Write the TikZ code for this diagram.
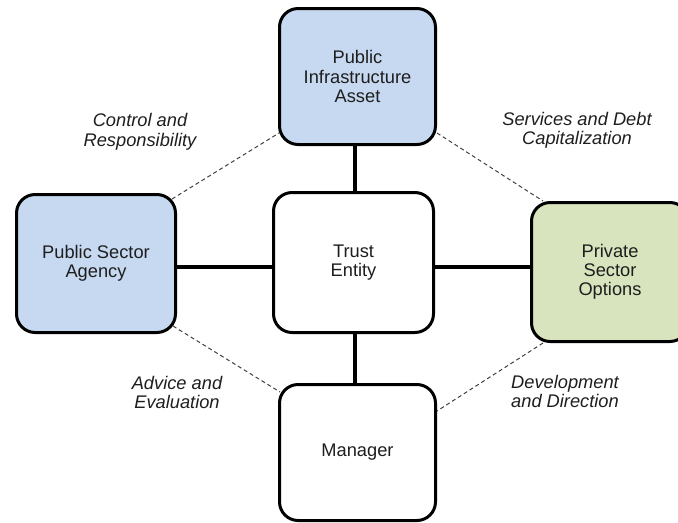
\documentclass[tikz,border=0pt]{standalone}
\usepackage{fontspec}
\setmainfont{Liberation Sans}
\usetikzlibrary{calc}
\definecolor{boxblue}{HTML}{C6D9F1}
\definecolor{boxgreen}{HTML}{D7E4BD}
\definecolor{txt}{HTML}{1E1E1E}
\definecolor{dashgray}{HTML}{404040}
\begin{document}
\begin{tikzpicture}[x=0.75pt,y=-0.75pt,
  box/.style={draw=black, line width=2.25pt, rounded corners=14pt, align=center,
    text=txt, font=\fontsize{13.7}{14.3}\selectfont, inner sep=0pt},
  lbl/.style={align=center, text=txt, font=\fontsize{13.7}{14.6}\selectfont\itshape, inner sep=0pt},
  link/.style={line width=3.3pt, draw=black},
  rel/.style={draw=dashgray, line width=0.75pt, dash pattern=on 3pt off 2.2pt}]
\useasboundingbox (0,0) rectangle (678,522);
\clip (0,0) rectangle (678,522);
% boxes
\node[box, fill=boxblue, minimum width=117pt, minimum height=102pt] (T) at (357.5,76.5) {Public\\Infrastructure\\Asset};
\node[box, fill=white, minimum width=120pt, minimum height=105pt] (C) at (353.5,262.5) {Trust\\Entity};
\node[box, fill=boxblue, minimum width=119.25pt, minimum height=103.5pt] (L) at (96,263.5) {Public Sector\\Agency};
\node[box, fill=boxgreen, minimum width=117.75pt, minimum height=104.25pt] (R) at (610,272) {Private\\Sector\\Options};
\node[box, fill=white, minimum width=117pt, minimum height=102pt] (B) at (357.5,452.5) {Manager};
% thick links
\draw[link] ($(T.south)+(-2.5,0)$) -- ($(C.north)+(1.5,0)$);
\draw[link] ($(C.south)+(1.5,0)$) -- ($(B.north)+(-2.5,0)$);
\draw[link] ($(L.east)+(0,3.5)$) -- ($(C.west)+(0,4.5)$);
\draw[link] ($(C.east)+(0,4.5)$) -- ($(R.west)+(0,-5)$);
% dashed relations
\coordinate (cr1) at ($(L.north east)+(-5,6)$);
\coordinate (cr2) at ($(T.south west)+(1,-13)$);
\coordinate (sd1) at ($(T.south east)+(0,-13)$);
\coordinate (sd2) at ($(R.north west)+(13,0)$);
\coordinate (ae1) at ($(L.south east)+(-4,-8)$);
\coordinate (ae2) at ($(B.north west)+(2,9)$);
\coordinate (dd1) at ($(R.south west)+(13,0)$);
\coordinate (dd2) at ($(B.north east)+(0,28)$);
\draw[rel] (cr1) -- (cr2);
\draw[rel] (sd1) -- (sd2);
\draw[rel] (ae1) -- (ae2);
\draw[rel] (dd1) -- (dd2);
% labels
\node[lbl] (lcr) at (140,132) {Control and\\Responsibility};
\node[lbl] (lsd) at (577,130.5) {Services and Debt\\Capitalization};
\node[lbl] (lae) at (177,392.5) {Advice and\\Evaluation};
\node[lbl] (ldd) at (565,391.5) {Development\\and Direction};
\end{tikzpicture}
\end{document}
